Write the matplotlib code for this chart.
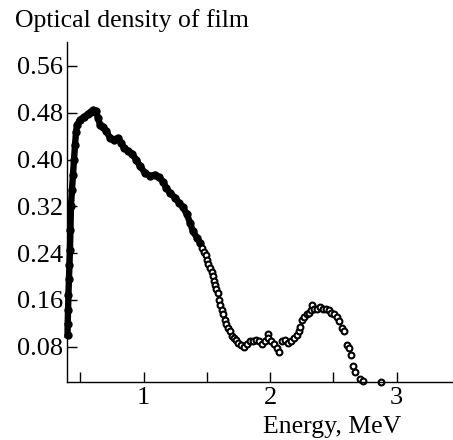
import matplotlib
matplotlib.use("Agg")
import matplotlib.pyplot as plt

plt.rcParams['font.family'] = ['Liberation Serif', 'DejaVu Serif']

# dense part of the curve (points overlap into a thick band)
energy_dense = [0.398, 0.399, 0.402, 0.405, 0.409, 0.413, 0.417, 0.421, 0.425, 0.433,
                0.441, 0.449, 0.457, 0.465, 0.473, 0.496, 0.528, 0.560, 0.583, 0.602,
                0.623, 0.639, 0.655, 0.678, 0.702, 0.734, 0.765, 0.797, 0.821, 0.844,
                0.876, 0.908, 0.939, 0.971, 1.010, 1.050, 1.089, 1.121, 1.153, 1.176,
                1.208, 1.247, 1.279, 1.311, 1.342, 1.366, 1.390, 1.421, 1.445]
od_dense = [0.100, 0.118, 0.143, 0.169, 0.195, 0.220, 0.246, 0.280, 0.321, 0.348,
            0.374, 0.400, 0.425, 0.447, 0.459, 0.468, 0.473, 0.478, 0.482, 0.485,
            0.483, 0.471, 0.459, 0.456, 0.449, 0.437, 0.434, 0.437, 0.429, 0.420,
            0.415, 0.410, 0.400, 0.389, 0.377, 0.372, 0.374, 0.370, 0.362, 0.352,
            0.343, 0.335, 0.326, 0.318, 0.306, 0.292, 0.277, 0.266, 0.258]

# sparse part (separate open circles)
energy_sparse = [1.461, 1.477, 1.489, 1.500, 1.512, 1.524, 1.536, 1.548, 1.556, 1.564,
                 1.575, 1.587, 1.599, 1.607, 1.619, 1.627, 1.639, 1.651, 1.666, 1.682,
                 1.698, 1.714, 1.730, 1.745, 1.769, 1.793, 1.817, 1.840, 1.864, 1.888,
                 1.912, 1.935, 1.959, 1.983, 1.983, 2.006, 2.030, 2.054, 2.070, 2.093,
                 2.117, 2.141, 2.164, 2.188, 2.212, 2.228, 2.236, 2.251, 2.267, 2.291,
                 2.307, 2.322, 2.330, 2.346, 2.370, 2.394, 2.417, 2.441, 2.465, 2.481,
                 2.504, 2.528, 2.544, 2.567, 2.583, 2.607, 2.623, 2.639, 2.654, 2.670,
                 2.709, 2.733, 2.876]
od_sparse = [0.249, 0.242, 0.236, 0.229, 0.222, 0.215, 0.208, 0.200, 0.193, 0.186,
             0.179, 0.171, 0.159, 0.152, 0.143, 0.135, 0.126, 0.118, 0.112, 0.106,
             0.099, 0.094, 0.092, 0.087, 0.083, 0.080, 0.085, 0.089, 0.090, 0.092,
             0.089, 0.085, 0.090, 0.102, 0.094, 0.090, 0.085, 0.078, 0.071, 0.089,
             0.092, 0.087, 0.090, 0.095, 0.100, 0.107, 0.114, 0.126, 0.130, 0.135,
             0.138, 0.143, 0.152, 0.145, 0.145, 0.147, 0.145, 0.145, 0.143, 0.138,
             0.135, 0.130, 0.124, 0.112, 0.107, 0.083, 0.077, 0.066, 0.046, 0.037,
             0.024, 0.022, 0.020]

x_ticks = [0.5, 1, 1.5, 2, 2.5, 3]
x_tick_labels = ['', '1', '', '2', '', '3']
y_ticks = [0.08, 0.16, 0.24, 0.32, 0.40, 0.48, 0.56]
y_tick_labels = ['0.08', '0.16', '0.24', '0.32', '0.40', '0.48', '0.56']

fig = plt.figure(figsize=(4.53, 4.40), dpi=100)
ax = fig.add_axes([0.148, 0.1325, 0.852, 0.772])

ax.plot(energy_dense, od_dense, color='black', lw=4.6, marker='o', ms=5,
        mfc='black', mec='black', solid_joinstyle='round', clip_on=False)
ax.plot(energy_sparse, od_sparse, ls='none', marker='o', ms=4.2, mfc='white',
        mec='black', mew=1.5, clip_on=False)

ax.set_xlim(0.394, 3.445)
ax.set_ylim(0.02, 0.601)
ax.set_xticks(x_ticks)
ax.set_xticklabels(x_tick_labels)
ax.set_yticks(y_ticks)
ax.set_yticklabels(y_tick_labels)

ax.spines['top'].set_visible(False)
ax.spines['right'].set_visible(False)
for s in ['left', 'bottom']:
    ax.spines[s].set_linewidth(1.0)
ax.tick_params(direction='in', length=7, width=1.0, labelsize=19)
ax.tick_params(axis='x', pad=4)
ax.tick_params(axis='y', pad=3)

fig.text(15 / 453, 1 - 27 / 440, 'Optical density of film', fontsize=18.5,
         ha='left', va='baseline')
fig.text(331.7 / 453, 1 - 433 / 440, 'Energy, MeV', fontsize=18.5,
         ha='center', va='baseline')

fig.savefig('out.png', dpi=100)
